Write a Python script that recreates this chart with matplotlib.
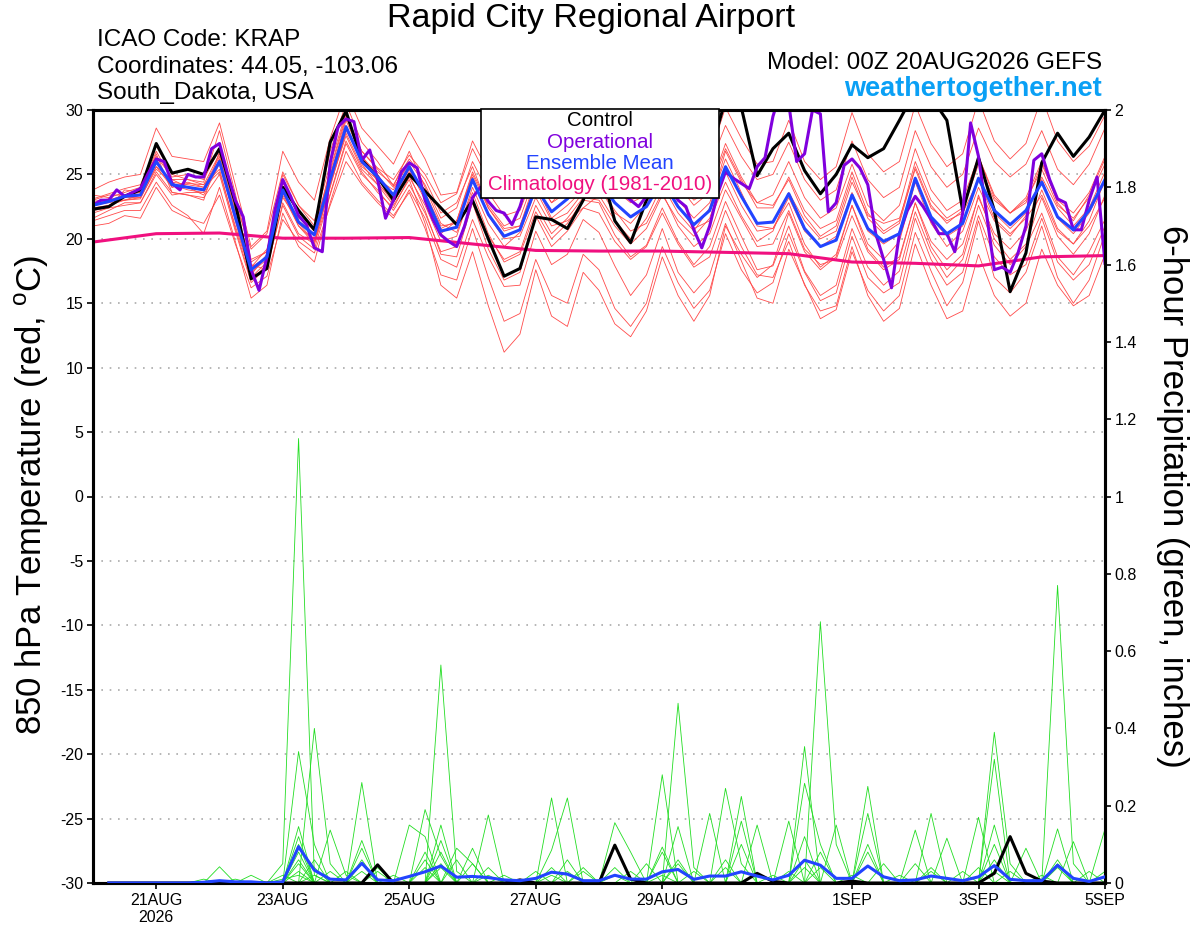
import numpy as np
import pandas as pd
import matplotlib
matplotlib.use('Agg')
import matplotlib.pyplot as plt
from matplotlib.patches import Rectangle

plt.rcParams['font.family'] = ['Liberation Sans', 'DejaVu Sans']
plt.rcParams['mathtext.fontset'] = 'custom'
plt.rcParams['mathtext.rm'] = 'Liberation Sans'

# --- data (850 hPa temperature, deg C, 6-hourly from 00Z 20 Aug 2026) ---
start = '2026-08-20 00:00'

control_temp = [22.3, 22.5, 23.3, 23.8, 27.4, 25.1, 25.4, 25.0, 27.0, 22.8, 16.9, 17.7, 24.0, 22.2, 20.7, 27.5, 29.9,
                26.1, 24.8, 23.0, 25.0, 23.7, 22.4, 21.1, 23.0, 20.0, 17.1, 17.7, 21.7, 21.5, 20.8, 23.0, 26.0,
                21.4, 19.7, 23.0, 25.5, 24.5, 24.0, 26.5, 30.8, 30.2, 24.9, 27.0, 28.2, 25.3, 23.5, 25.0, 27.3,
                26.3, 27.0, 29.2, 31.5, 31.0, 29.2, 22.2, 26.3, 22.2, 15.9, 18.9, 25.9, 28.2, 26.4, 27.9, 30.0]

mean_temp = [22.6, 22.9, 23.3, 23.4, 26.0, 24.2, 24.0, 23.8, 26.0, 21.7, 17.6, 18.6, 23.8, 21.3, 20.3, 24.6, 28.7,
             26.0, 24.8, 23.4, 25.6, 23.4, 20.6, 20.9, 24.6, 21.9, 20.2, 20.7, 24.0, 22.1, 23.1, 24.5, 24.5,
             22.8, 21.7, 22.5, 24.5, 22.5, 21.1, 22.2, 25.6, 23.3, 21.2, 21.3, 23.5, 20.8, 19.4, 19.9, 23.4,
             20.8, 19.8, 20.4, 24.7, 21.7, 20.4, 21.2, 24.7, 22.2, 21.1, 22.2, 24.4, 21.7, 20.7, 22.2, 24.6]

# operational run is 3-hourly
oper_temp = [22.6, 23.0, 23.0, 23.8, 23.3, 23.6, 23.9, 25.1, 26.2, 26.0, 24.3, 23.8, 25.0, 24.8, 24.8, 27.0,
             27.4, 25.1, 23.0, 21.7, 17.6, 16.0, 18.6, 22.2, 24.6, 23.3, 21.8, 21.1, 19.3, 19.0, 25.9, 28.7,
             29.3, 29.1, 26.1, 26.9, 24.6, 21.6, 23.0, 25.2, 25.9, 25.5, 23.0, 21.5, 20.3, 19.8, 19.4, 21.0,
             23.2, 24.0, 22.9, 22.2, 22.0, 21.1, 22.5, 24.5, 25.5, 26.5, 27.0, 26.0, 25.5, 26.0, 27.0, 26.5,
             25.0, 24.5, 24.0, 23.5, 23.0, 22.5, 23.3, 24.0, 24.5, 24.0, 23.0, 22.5, 20.7, 19.3, 21.0, 23.5,
             25.2, 24.7, 24.3, 23.9, 25.6, 26.3, 29.5, 31.5, 30.5, 26.0, 26.6, 30.0, 29.7, 22.1, 22.8, 25.7,
             26.2, 25.5, 24.2, 20.4, 18.4, 16.2, 20.4, 22.2, 23.3, 22.5, 21.5, 20.4, 20.4, 19.0, 22.0, 29.0,
             26.4, 22.0, 17.6, 17.8, 17.4, 18.9, 21.0, 26.1, 26.6, 24.6, 23.1, 22.8, 20.7, 20.7, 23.0, 24.8,
             18.1]

# daily climatology (1981-2010)
clim_temp = [19.75, 20.4, 20.45, 20.05, 20.05, 20.1, 19.6, 19.1, 19.05, 19.05, 18.95, 18.85, 18.2, 18.1,
             17.9, 18.6, 18.7]

member_temp = [
    [23.1, 23.5, 23.9, 24.2, 27.2, 25.0, 24.6, 24.4, 28.4, 23.5, 18.4, 19.0, 25.0, 22.6, 21.0, 26.8, 30.5,
     27.5, 26.0, 24.1, 26.8, 24.0, 21.2, 20.5, 23.6, 20.4, 18.2, 18.8, 22.1, 20.0, 21.2, 23.0, 22.8,
     20.3, 18.6, 19.5, 22.4, 19.8, 18.0, 19.4, 22.9, 20.2, 17.6, 17.9, 21.0, 17.5, 15.6, 16.4, 20.8,
     17.8, 16.4, 17.5, 22.1, 19.0, 17.0, 18.4, 22.6, 19.5, 18.0, 19.4, 22.0, 18.6, 17.2, 19.0, 21.5],
    [21.0, 21.2, 21.8, 21.6, 24.0, 22.2, 21.6, 21.2, 23.4, 19.6, 16.2, 17.1, 21.5, 19.8, 18.9, 22.6, 26.0,
     24.2, 22.8, 21.6, 23.8, 21.6, 18.4, 17.8, 21.5, 18.6, 16.3, 16.4, 20.6, 18.0, 18.8, 21.5, 20.5,
     17.9, 15.6, 17.2, 20.8, 17.4, 15.8, 17.2, 21.2, 18.3, 15.4, 15.0, 19.2, 16.5, 13.8, 14.5, 19.0,
     16.0, 14.4, 15.6, 20.5, 17.5, 14.8, 16.6, 21.4, 17.0, 15.8, 17.4, 21.0, 17.0, 15.0, 16.8, 20.4],
    [22.2, 22.6, 23.0, 23.1, 25.6, 24.0, 24.3, 24.2, 25.4, 20.8, 16.8, 18.0, 24.4, 22.1, 20.6, 25.2, 29.4,
     26.8, 25.5, 24.6, 26.5, 25.0, 22.8, 23.5, 27.0, 24.6, 23.2, 23.8, 27.2, 25.0, 26.2, 28.0, 28.5,
     26.4, 25.0, 25.6, 28.0, 25.8, 24.4, 25.6, 28.8, 26.4, 24.6, 25.0, 27.5, 24.6, 23.0, 23.8, 27.6,
     24.6, 23.2, 24.0, 28.4, 25.6, 24.0, 25.0, 28.6, 26.0, 24.8, 25.8, 28.4, 25.4, 24.2, 25.8, 28.6],
    [23.4, 23.2, 23.6, 24.0, 26.4, 24.8, 25.0, 24.6, 27.0, 22.4, 18.0, 17.6, 22.8, 20.4, 19.6, 23.5, 27.6,
     25.2, 23.6, 22.4, 24.8, 22.6, 19.8, 20.2, 24.0, 21.2, 19.4, 20.5, 23.8, 21.4, 22.0, 23.6, 24.0,
     22.0, 21.2, 22.6, 25.4, 23.0, 21.6, 22.8, 26.2, 23.6, 21.0, 20.8, 22.8, 19.6, 17.8, 18.8, 22.6,
     19.6, 18.4, 19.8, 24.4, 21.2, 19.4, 20.6, 24.0, 21.4, 20.2, 21.8, 24.8, 22.4, 21.0, 22.4, 25.2],
    [22.0, 22.4, 23.8, 23.6, 26.6, 23.6, 23.4, 23.0, 26.8, 22.8, 19.2, 20.4, 25.2, 22.6, 21.4, 25.8, 29.8,
     26.5, 24.4, 22.8, 25.0, 22.2, 18.8, 18.6, 22.8, 19.2, 16.8, 17.4, 21.8, 19.4, 20.6, 22.4, 23.4,
     21.4, 20.0, 21.6, 24.2, 22.0, 20.6, 22.4, 26.8, 24.4, 22.8, 23.4, 26.0, 23.2, 21.6, 22.4, 25.8,
     22.6, 21.4, 22.6, 27.0, 23.8, 22.2, 23.0, 26.4, 23.4, 22.0, 23.2, 26.0, 22.8, 21.4, 23.4, 26.2],
    [22.9, 23.1, 23.0, 23.2, 25.4, 24.4, 24.2, 24.0, 25.2, 21.0, 17.2, 18.8, 23.4, 21.0, 19.6, 24.2, 28.2,
     25.6, 24.6, 23.8, 26.0, 24.2, 21.6, 22.4, 26.0, 23.6, 21.8, 22.2, 25.4, 23.4, 24.0, 25.2, 25.6,
     23.8, 22.8, 23.4, 25.0, 22.6, 20.8, 21.4, 24.4, 21.8, 19.8, 20.6, 23.6, 21.4, 20.0, 20.6, 24.4,
     21.8, 21.2, 21.6, 25.4, 22.4, 21.4, 22.0, 24.6, 21.6, 20.4, 21.6, 23.4, 20.6, 19.6, 21.0, 23.2],
    [21.4, 21.8, 22.2, 22.2, 24.4, 22.6, 21.8, 20.4, 24.0, 19.8, 15.4, 16.4, 22.0, 19.4, 18.2, 22.8, 26.8,
     24.4, 23.0, 21.8, 23.6, 20.8, 17.2, 16.8, 20.8, 17.0, 13.6, 14.2, 18.4, 15.6, 15.0, 18.8, 17.6,
     14.6, 13.2, 15.0, 19.4, 16.6, 14.6, 16.0, 20.4, 17.6, 15.8, 16.6, 20.4, 17.4, 15.2, 15.8, 20.2,
     17.0, 15.8, 16.6, 21.6, 18.4, 16.4, 17.4, 21.8, 18.6, 17.2, 18.0, 21.6, 18.2, 16.8, 18.0, 21.0],
    [23.0, 23.4, 23.4, 23.8, 26.8, 24.6, 24.0, 23.4, 25.8, 21.4, 17.0, 18.2, 23.6, 21.6, 20.8, 25.0, 28.8,
     25.8, 24.2, 22.6, 24.6, 21.2, 16.4, 15.4, 19.0, 14.8, 11.2, 12.6, 17.6, 14.0, 13.2, 17.4, 16.0,
     13.4, 12.4, 14.4, 18.6, 15.6, 13.6, 15.6, 21.0, 18.8, 17.0, 18.0, 22.0, 19.0, 17.6, 18.6, 22.6,
     19.2, 17.8, 18.6, 22.8, 19.4, 17.6, 18.8, 23.4, 20.0, 18.4, 19.6, 23.2, 20.2, 18.8, 20.4, 23.4],
    [23.8, 24.4, 24.8, 25.0, 28.6, 26.4, 26.2, 26.0, 29.0, 24.2, 19.4, 20.6, 26.8, 24.4, 23.0, 27.8, 31.4,
     28.6, 27.2, 25.8, 28.4, 26.2, 23.4, 23.6, 27.6, 25.2, 23.8, 24.0, 27.8, 25.6, 26.8, 28.6, 28.8,
     26.8, 25.4, 26.2, 29.0, 26.6, 25.0, 26.4, 30.2, 27.8, 25.8, 26.0, 29.2, 26.0, 24.6, 25.6, 29.8,
     26.6, 25.2, 26.0, 30.4, 27.4, 25.6, 26.6, 30.8, 27.6, 26.2, 27.4, 31.0, 27.6, 26.0, 27.2, 29.6],
    [21.6, 22.2, 22.8, 22.8, 25.0, 23.4, 23.6, 23.6, 26.2, 21.8, 17.8, 19.2, 24.0, 21.2, 19.8, 24.0, 28.4,
     26.2, 25.2, 24.2, 26.2, 24.6, 22.0, 22.8, 25.6, 22.4, 20.8, 21.0, 24.2, 21.6, 22.6, 23.8, 24.2,
     22.2, 20.6, 21.2, 23.6, 21.0, 19.4, 20.4, 23.8, 21.6, 19.4, 19.6, 22.2, 19.2, 18.0, 18.4, 21.8,
     19.0, 17.6, 18.4, 22.8, 19.8, 18.4, 19.6, 23.2, 20.4, 19.2, 20.6, 23.8, 20.8, 19.6, 21.4, 24.6],
    [22.8, 23.0, 23.4, 23.6, 26.2, 24.0, 24.4, 24.0, 26.4, 22.0, 17.4, 18.4, 23.2, 21.4, 20.4, 24.8, 29.2,
     26.4, 25.0, 23.2, 25.4, 23.0, 20.4, 21.4, 25.2, 22.6, 21.0, 21.6, 25.0, 22.8, 24.2, 25.8, 26.2,
     24.4, 23.6, 24.0, 26.6, 24.4, 23.0, 23.8, 27.4, 24.8, 22.8, 22.6, 24.6, 21.8, 20.2, 21.0, 24.8,
     21.6, 20.4, 21.2, 25.6, 22.6, 21.2, 22.2, 25.8, 23.0, 22.0, 23.0, 25.4, 22.6, 21.6, 23.2, 25.8],
    [22.4, 22.6, 23.2, 23.2, 26.0, 24.2, 23.8, 23.6, 26.2, 21.6, 17.8, 18.6, 23.6, 21.0, 19.8, 24.2, 28.0,
     25.4, 24.2, 23.2, 25.2, 23.6, 21.0, 21.2, 24.8, 21.8, 20.0, 20.2, 23.2, 21.0, 21.4, 22.4, 22.0,
     19.8, 18.4, 19.4, 22.0, 19.6, 17.8, 18.6, 22.2, 19.4, 17.2, 17.0, 19.8, 16.4, 14.4, 14.8, 19.4,
     15.6, 13.6, 14.6, 19.6, 16.4, 13.8, 14.4, 18.8, 15.6, 14.0, 15.0, 19.2, 16.4, 14.8, 15.6, 18.8],
    [22.6, 22.8, 23.0, 23.4, 25.6, 24.6, 24.6, 24.2, 26.6, 22.2, 18.2, 19.0, 24.4, 21.8, 20.6, 25.4, 29.6,
     26.8, 25.4, 24.0, 25.8, 23.2, 20.8, 21.4, 25.0, 22.4, 20.6, 21.0, 24.6, 22.8, 23.6, 25.4, 25.8,
     24.2, 23.0, 23.6, 26.4, 24.2, 22.6, 23.6, 27.0, 24.6, 22.4, 22.4, 24.8, 22.2, 20.8, 21.4, 25.2,
     22.0, 20.6, 21.4, 26.0, 23.0, 21.6, 22.4, 26.4, 23.2, 22.0, 22.8, 25.8, 23.0, 22.0, 23.6, 26.4],
    [22.2, 22.4, 22.6, 22.8, 25.2, 23.6, 23.4, 23.2, 25.0, 20.6, 16.6, 17.8, 22.6, 20.2, 19.2, 23.4, 27.4,
     25.0, 23.8, 22.2, 24.2, 22.0, 19.0, 19.4, 23.0, 20.2, 18.4, 19.0, 22.6, 20.4, 21.6, 23.2, 23.0,
     21.0, 19.6, 20.8, 23.4, 21.4, 20.2, 21.6, 25.2, 22.6, 20.6, 20.8, 23.2, 20.6, 19.4, 20.2, 23.6,
     20.6, 19.6, 20.4, 24.8, 21.6, 20.2, 21.0, 24.8, 22.0, 20.8, 22.0, 24.6, 21.6, 20.4, 22.0, 24.4],
]

# --- 6-hour precipitation (inches), steps 1..64 ---
mean_precip = [0, 0, 0, 0, 0, 0, 0.002, 0.006, 0.003, 0.003, 0, 0.003, 0.094, 0.033, 0.01, 0.008,
               0.051, 0.008, 0.006, 0.017, 0.029, 0.044, 0.015, 0.017, 0.014, 0.008, 0.006, 0.012, 0.028,
               0.023, 0.006, 0.006, 0.020, 0.01, 0.01, 0.029, 0.035, 0.0095, 0.018, 0.018, 0.029, 0.018,
               0.008, 0.02, 0.059, 0.046, 0.012, 0.012, 0.044, 0.016, 0.006, 0.008, 0.018, 0.012, 0.006,
               0.016, 0.045, 0.0095, 0.006, 0.006, 0.046, 0.012, 0.004, 0.016]

# (step, amount) pairs; every other step is zero
control_precip = [(18, 0.047), (27, 0.008), (33, 0.098), (34, 0.01), (42, 0.025), (43, 0.004),
                  (48, 0.005), (57, 0.025), (58, 0.12), (59, 0.025), (60, 0.005)]

member_precip = [
    [(12, 0.05), (13, 1.15), (14, 0.02), (22, 0.05), (37, 0.06), (46, 0.08), (57, 0.03)],
    [(13, 0.34), (14, 0.10), (17, 0.26), (21, 0.06), (29, 0.22), (31, 0.04), (45, 0.04), (61, 0.77), (62, 0.05)],
    [(14, 0.40), (15, 0.05), (22, 0.564), (23, 0.03), (36, 0.08), (46, 0.676), (47, 0.10), (53, 0.03)],
    [(13, 0.146), (15, 0.137), (16, 0.02), (21, 0.19), (22, 0.07), (37, 0.465), (38, 0.04), (45, 0.353),
     (57, 0.39), (58, 0.05)],
    [(13, 0.05), (17, 0.11), (20, 0.15), (21, 0.12), (25, 0.176), (36, 0.28), (40, 0.245), (41, 0.05),
     (49, 0.25), (57, 0.32)],
    [(8, 0.042), (10, 0.02), (13, 0.08), (17, 0.06), (24, 0.09), (33, 0.156), (34, 0.08), (39, 0.18),
     (41, 0.224), (52, 0.137), (61, 0.14)],
    [(13, 0.12), (18, 0.04), (22, 0.08), (29, 0.085), (30, 0.22), (37, 0.146), (42, 0.15), (45, 0.258),
     (46, 0.10), (53, 0.18), (64, 0.14)],
    [(12, 0.02), (14, 0.06), (17, 0.03), (23, 0.06), (28, 0.03), (33, 0.04), (36, 0.093), (44, 0.16),
     (49, 0.18), (54, 0.116), (59, 0.09)],
    [(13, 0.03), (16, 0.03), (21, 0.04), (26, 0.02), (31, 0.03), (35, 0.05), (41, 0.16), (47, 0.15),
     (56, 0.17), (62, 0.107)],
    [(7, 0.01), (13, 0.09), (14, 0.04), (18, 0.03), (22, 0.04), (24, 0.05), (30, 0.06), (38, 0.03),
     (45, 0.06), (49, 0.08), (57, 0.10), (61, 0.04)],
    [(13, 0.06), (17, 0.05), (19, 0.02), (25, 0.04), (29, 0.04), (34, 0.03), (40, 0.06), (43, 0.02),
     (50, 0.05), (55, 0.03), (60, 0.02), (63, 0.03)],
    [(9, 0.01), (12, 0.01), (13, 0.02), (17, 0.09), (22, 0.11), (29, 0.02), (37, 0.05), (46, 0.04),
     (51, 0.02), (56, 0.04), (58, 0.03), (64, 0.03)],
    [(14, 0.02), (21, 0.08), (23, 0.09), (24, 0.05), (33, 0.02), (40, 0.04), (44, 0.03), (48, 0.02),
     (52, 0.05), (57, 0.06), (61, 0.06)],
    [(13, 0.10), (15, 0.03), (22, 0.15), (25, 0.02), (30, 0.03), (36, 0.02), (41, 0.10), (45, 0.12),
     (49, 0.10), (53, 0.04), (57, 0.15), (61, 0.05)],
]

tick_dates = ['2026-08-21', '2026-08-23', '2026-08-25', '2026-08-27', '2026-08-29',
              '2026-09-01', '2026-09-03', '2026-09-05']
tick_labels = ['21AUG\n2026', '23AUG', '25AUG', '27AUG', '29AUG', '1SEP', '3SEP', '5SEP']
temp_ticks = [-30, -25, -20, -15, -10, -5, 0, 5, 10, 15, 20, 25, 30]
precip_ticks = [0, 0.2, 0.4, 0.6, 0.8, 1.0, 1.2, 1.4, 1.6, 1.8, 2.0]
precip_labels = ['0', '0.2', '0.4', '0.6', '0.8', '1', '1.2', '1.4', '1.6', '1.8', '2']

legend_items = [('Control', 'black'), ('Operational', '#8000dd'),
                ('Ensemble Mean', '#2244ff'), ('Climatology (1981-2010)', '#f0107f')]


def pairs_to_series(pairs, n):
    out = np.zeros(n)
    for step, val in pairs:
        out[step - 1] = val
    return out


t6 = pd.date_range(start, periods=len(mean_temp), freq='6h')
t3 = pd.date_range(start, periods=len(oper_temp), freq='3h')
tday = pd.date_range(start, periods=len(clim_temp), freq='1D')
tp = t6[1:]

fig = plt.figure(figsize=(12, 9.27), dpi=100)
ax = fig.add_axes([93 / 1200, 44 / 927, 1012 / 1200, 773 / 927])
ax2 = ax.twinx()

for m in member_temp:
    ax.plot(t6[:len(m)], m, color='#ff4a4a', lw=0.6, zorder=2)
ax.plot(tday, clim_temp, color='#f0107f', lw=2.2, zorder=3)
ax.plot(t6, control_temp, color='black', lw=2.2, zorder=4)
ax.plot(t3, oper_temp, color='#8000dd', lw=2.2, zorder=5)
ax.plot(t6, mean_temp, color='#2244ff', lw=2.2, zorder=6)

for pairs in member_precip:
    ax2.plot(tp, pairs_to_series(pairs, len(tp)), color='#22dd22', lw=0.6, zorder=2)
ax2.plot(tp, pairs_to_series(control_precip, len(tp)), color='black', lw=2.2, zorder=4)
ax2.plot(tp, mean_precip, color='#2244ff', lw=2.2, zorder=6)

ax.set_xlim(t6[0], t6[-1])
ax.set_ylim(-30, 30)
ax2.set_ylim(0, 2)
ax.set_yticks(temp_ticks)
ax.set_yticklabels([str(v) for v in temp_ticks])
ax2.set_yticks(precip_ticks)
ax2.set_yticklabels(precip_labels)
ax.set_xticks(pd.to_datetime(tick_dates))
ax.set_xticklabels(tick_labels)

ax.grid(axis='y', color='#aaaaaa', lw=1.2, linestyle=(0, (1, 4)))
ax.tick_params(axis='both', direction='out', length=4, width=1.2, labelsize=11.5, pad=3)
ax2.tick_params(axis='y', direction='out', length=4, width=1.2, labelsize=11.5, pad=3)
for a in (ax, ax2):
    for s in a.spines.values():
        s.set_linewidth(2.2)

fig.text(591 / 1200, 1 - 18 / 927, 'Rapid City Regional Airport', ha='center', va='center', fontsize=24.5)
info = ['ICAO Code: KRAP', 'Coordinates: 44.05, -103.06', 'South_Dakota, USA']
for k, line in enumerate(info):
    fig.text(97 / 1200, 1 - (40 + 26.5 * k) / 927, line, ha='left', va='center', fontsize=17.5)
fig.text(1102 / 1200, 1 - 63 / 927, 'Model: 00Z 20AUG2026 GEFS', ha='right', va='center', fontsize=17.5)
fig.text(1102 / 1200, 1 - 89 / 927, 'weathertogether.net', ha='right', va='center', fontsize=19.5,
         weight='bold', color='#0aa0f5')

fig.text(32 / 1200, 1 - 495 / 927, r'850 hPa Temperature (red, $^{\rm o}$C)', rotation=90,
         ha='center', va='center', fontsize=25)
fig.text(1172 / 1200, 1 - 496 / 927, '6-hour Precipitation (green, inches)', rotation=270,
         ha='center', va='center', fontsize=25)

box = Rectangle((481 / 1200, 1 - 198 / 927), 238 / 1200, 89 / 927, transform=fig.transFigure,
                facecolor='white', edgecolor='black', lw=1.2, zorder=10)
fig.add_artist(box)
for k, (name, col) in enumerate(legend_items):
    fig.text(600 / 1200, 1 - (121 + 21.3 * k) / 927, name, ha='center', va='center',
             fontsize=14.8, color=col, zorder=11)

fig.savefig('out.png', dpi=100)
